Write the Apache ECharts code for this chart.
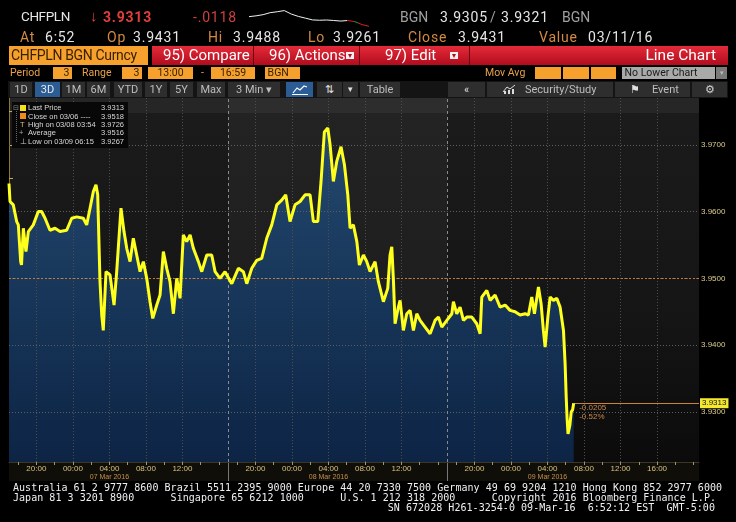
<!DOCTYPE html>
<html><head><meta charset="utf-8">
<script src="https://cdn.jsdelivr.net/npm/echarts@6/dist/echarts.min.js"></script>
<style>
body{margin:0;background:#000;width:736px;height:522px;overflow:hidden;position:relative;font-family:Roboto,'Liberation Sans',sans-serif;}
.a{position:absolute;white-space:pre;line-height:1;}
.h1{font-size:14px;top:10px;color:#e6e6e6;letter-spacing:0.8px}
.h2{font-size:14px;top:30px;color:#e6e6e6;letter-spacing:0.8px}
.o{color:#d48a42}
.box{position:absolute;top:67px;height:12px;background:#f6a12e;color:#3a2000;font-size:10.5px;line-height:12px;white-space:pre}
.lab{position:absolute;top:67px;height:12px;color:#e8a04a;font-size:10.5px;line-height:12px;white-space:pre}
.btn{position:absolute;top:82px;height:15px;background:#2e2e2e;color:#bdbdbd;font-size:11px;line-height:15px;text-align:center;white-space:pre}
.rb{position:absolute;top:46px;height:19px;line-height:19px;color:#fff;font-size:15px;white-space:pre}
.lg{position:absolute;font-family:'Liberation Sans',sans-serif;font-size:7.5px;line-height:8px;color:#d8d8d8;white-space:pre}
.f{position:absolute;left:13px;margin:0;font-family:'DejaVu Sans Mono',monospace;font-size:10px;line-height:10px;color:#f0f0f0;white-space:pre;letter-spacing:0.04px}
</style></head><body>
<div style="position:absolute;left:9px;top:462px;width:690px;height:19px;background:#100e09"></div>
<div id="main" style="position:absolute;left:0;top:0;width:736px;height:522px"></div>
<div id="spark" style="position:absolute;left:248px;top:7px;width:122px;height:22px"></div>

<!-- header row 1 -->
<div class="a h1" style="left:21px;font-size:13.5px;letter-spacing:-0.4px">CHFPLN</div>
<div class="a h1" style="left:90px;top:9px;color:#e0403c;font-size:15px">↓</div>
<div class="a h1" style="left:103px;color:#e0403c;font-weight:bold">3.9313</div>
<div class="a h1" style="left:193px;color:#d0403c">-.0118</div>
<div class="a h1" style="left:400px;color:#a0a0a0;letter-spacing:0">BGN</div>
<div class="a h1" style="left:440px">3.9305</div>
<div class="a h1" style="left:490px;color:#a0a0a0">/</div>
<div class="a h1" style="left:501px">3.9321</div>
<div class="a h1" style="left:562px;color:#a0a0a0;letter-spacing:0">BGN</div>
<!-- header row 2 -->
<div class="a h2 o" style="left:20px">At</div>
<div class="a h2" style="left:45px">6:52</div>
<div class="a h2 o" style="left:107px">Op</div>
<div class="a h2" style="left:133px">3.9431</div>
<div class="a h2 o" style="left:208px">Hi</div>
<div class="a h2" style="left:233px">3.9488</div>
<div class="a h2 o" style="left:308px">Lo</div>
<div class="a h2" style="left:333px">3.9261</div>
<div class="a h2 o" style="left:408px">Close</div>
<div class="a h2" style="left:458px">3.9431</div>
<div class="a h2 o" style="left:539px">Value</div>
<div class="a h2" style="left:588px">03/11/16</div>
<!-- row 3 -->
<div style="position:absolute;left:9px;top:46px;width:139px;height:19px;background:#f6a12e"></div>
<div class="rb" style="left:11px;color:#3a2000;font-size:14px;letter-spacing:-0.35px">CHFPLN BGN Curncy</div>
<div style="position:absolute;left:152px;top:46px;width:576px;height:19px;background:linear-gradient(#e42b3a,#b10c1d)"></div>
<div style="position:absolute;left:253px;top:46px;width:1px;height:19px;background:#6a0812"></div>
<div style="position:absolute;left:359px;top:46px;width:1px;height:19px;background:#6a0812"></div>
<div style="position:absolute;left:469px;top:46px;width:1px;height:19px;background:#6a0812"></div>
<div class="rb" style="left:163px">95) Compare</div>
<div class="rb" style="left:269px">96) Actions</div>
<div style="position:absolute;left:346px;top:52px;width:8px;height:7px;background:#f0f0f0;color:#b10c1d;font-size:8px;line-height:7px;text-align:center">▾</div>
<div class="rb" style="left:385px">97) Edit</div>
<div style="position:absolute;left:450px;top:52px;width:8px;height:7px;background:#f0f0f0;color:#b10c1d;font-size:8px;line-height:7px;text-align:center">▾</div>
<div class="rb" style="right:20px;font-size:15.5px">Line Chart</div>
<!-- row 4 -->
<div class="lab" style="left:10px">Period</div>
<div class="box" style="left:53px;width:19px;text-align:right;padding-right:0px">3 </div>
<div class="lab" style="left:82px">Range</div>
<div class="box" style="left:122px;width:20px;text-align:right">3 </div>
<div class="box" style="left:148px;width:45px;text-align:center">13:00</div>
<div class="lab" style="left:201px">-</div>
<div class="box" style="left:211px;width:44px;text-align:center">16:59</div>
<div class="box" style="left:265px;width:35px"> BGN</div>
<div class="lab" style="left:485px">Mov Avg</div>
<div class="box" style="left:535px;width:26px"></div>
<div class="box" style="left:563px;width:26px"></div>
<div class="box" style="left:591px;width:25px"></div>
<div class="box" style="left:622px;width:93px;background:#a9a9a9;color:#1a1a1a"> No Lower Chart</div>
<div class="box" style="left:716px;width:11px;background:#7a7a7a;color:#bbb;text-align:center;font-size:7px">▾</div>
<!-- row 5 -->
<div style="position:absolute;left:8px;top:81px;width:720px;height:17px;background:#141414"></div>
<div class="btn" style="left:10px;width:22px">1D</div>
<div class="btn" style="left:35px;width:25px;background:#2b5c93;color:#e8e8e8">3D</div>
<div class="btn" style="left:62px;width:23px">1M</div>
<div class="btn" style="left:87px;width:23px">6M</div>
<div class="btn" style="left:114px;width:28px">YTD</div>
<div class="btn" style="left:145px;width:22px">1Y</div>
<div class="btn" style="left:170px;width:23px">5Y</div>
<div class="btn" style="left:197px;width:28px">Max</div>
<div class="btn" style="left:228px;width:52px">3 Min ▾</div>
<div class="btn" style="left:286px;width:27px;background:#2b5c93"><svg width="16" height="11" style="margin-top:2px"><polyline points="1,9 5,4 8,6 12,2 15,3" stroke="#fff" fill="none" stroke-width="1.2"/><line x1="0" y1="10.5" x2="16" y2="10.5" stroke="#fff"/></svg></div>
<div class="btn" style="left:317px;width:25px;color:#e0e0e0">⇅</div>
<div class="btn" style="left:343px;width:15px;color:#e0e0e0;font-size:9px">▾</div>
<div class="btn" style="left:360px;width:40px">Table</div>
<div class="btn" style="left:448px;width:37px;color:#e0e0e0">«</div>
<div class="btn" style="left:487px;width:126px;text-align:left"><svg width="14" height="10" style="margin-left:15px;margin-right:9px;vertical-align:-1px"><polyline points="1,8 5,3 8,5 13,1" stroke="#ddd" fill="none"/><rect x="2" y="7" width="2" height="3" fill="#ddd"/><rect x="6" y="6" width="2" height="4" fill="#ddd"/><rect x="10" y="5" width="2" height="5" fill="#ddd"/></svg>Security/Study</div>
<div class="btn" style="left:615px;width:75px;text-align:left;color:#e0e0e0"><span style="margin-left:15px;margin-right:12px">⚑</span><span style="color:#bdbdbd">Event</span></div>
<div class="btn" style="left:692px;width:35px;color:#d0d0d0">⚙</div>

<!-- legend -->
<div style="position:absolute;left:12px;top:102px;width:116px;height:46px;background:rgba(6,6,6,0.93)"></div>
<div style="position:absolute;left:16px;top:111px;width:0;height:31px;border-left:1px dotted #666"></div>
<div class="lg" style="left:13px;top:104px;color:#888;font-size:7px">⊟</div>
<div style="position:absolute;left:20px;top:105px;width:6px;height:6px;background:#f2e21e"></div>
<div class="lg" style="left:28px;top:104px">Last Price</div>
<div class="lg" style="left:100px;top:104px;width:24px;text-align:right">3.9313</div>
<div style="position:absolute;left:20px;top:113px;width:6px;height:6px;background:#f08a1e"></div>
<div class="lg" style="left:28px;top:113px">Close on 03/06 ----</div>
<div class="lg" style="left:100px;top:113px;width:24px;text-align:right">3.9518</div>
<div class="lg" style="left:20px;top:121px;color:#d8c070">T</div>
<div class="lg" style="left:28px;top:121px">High on 03/08 03:54</div>
<div class="lg" style="left:100px;top:121px;width:24px;text-align:right">3.9726</div>
<div class="lg" style="left:19px;top:129px;color:#aaa">+</div>
<div class="lg" style="left:28px;top:129px">Average</div>
<div class="lg" style="left:100px;top:129px;width:24px;text-align:right">3.9516</div>
<div class="lg" style="left:20px;top:138px;color:#ccc">⊥</div>
<div class="lg" style="left:28px;top:138px">Low on 03/09 06:15</div>
<div class="lg" style="left:100px;top:138px;width:24px;text-align:right">3.9267</div>

<!-- footer -->
<div class="f" style="top:483px">Australia 61 2 9777 8600 Brazil 5511 2395 9000 Europe 44 20 7330 7500 Germany 49 69 9204 1210 Hong Kong 852 2977 6000</div>
<div class="f" style="top:493px">Japan 81 3 3201 8900      Singapore 65 6212 1000      U.S. 1 212 318 2000      Copyright 2016 Bloomberg Finance L.P.</div>
<div class="f" style="top:503px;left:auto;right:21px">SN 672028 H261-3254-0 09-Mar-16  6:52:12 EST  GMT-5:00</div>

<script>
// hours since 06 Mar 2016 17:00 (session start)
const hours = [
0,0.11,0.47,0.84,1.02,1.28,1.37,1.57,1.86,2.12,
2.66,3.21,3.58,3.95,4.49,5.04,5.59,6.32,6.87,7.42,
8.14,8.51,8.88,9.24,9.53,9.72,9.97,10.16,10.33,10.63,
11.07,11.51,11.80,12.27,12.60,12.90,13.26,13.62,13.99,14.36,
14.72,15.09,15.45,15.75,16.19,16.55,16.91,17.28,17.64,18.01,
18.38,18.74,19.10,19.47,19.84,20.20,20.75,21.12,21.67,22.21,
22.58,23.12,23.67,24.41,25.13,25.68,26.05,26.60,27.15,27.69,
28.24,28.79,29.34,29.88,30.32,30.79,31.34,31.89,32.44,32.99,
33.35,33.83,34.19,34.55,34.93,35.18,35.54,35.91,36.38,36.75,
37.12,37.37,37.73,38.11,38.39,38.83,39.20,39.56,40.11,40.47,
41.02,41.50,41.75,41.94,42.12,42.30,42.66,42.85,43.21,43.58,
43.95,44.31,44.68,45.04,45.59,46.14,46.68,47.05,47.42,47.97,
48.52,48.69,49.06,49.42,49.79,50.16,50.71,51.25,51.62,51.80,
52.35,52.71,53.26,53.81,54.36,54.90,55.45,56.00,56.55,56.91,
57.28,57.57,58.01,58.30,58.55,58.74,59.04,59.29,59.65,60.02,
60.38,60.75,60.93,61.05,61.15,61.25,61.45,61.60,61.75,61.87];
const prices = [
3.9642,3.9615,3.9610,3.9585,3.9580,3.9525,3.9520,3.9575,3.9540,3.9570,
3.9580,3.9600,3.9600,3.9590,3.9572,3.9575,3.9570,3.9572,3.9590,3.9592,
3.9590,3.9580,3.9605,3.9630,3.9640,3.9625,3.9495,3.9445,3.9422,3.9510,
3.9505,3.9460,3.9510,3.9605,3.9570,3.9545,3.9525,3.9560,3.9535,3.9510,
3.9525,3.9500,3.9465,3.9440,3.9460,3.9475,3.9540,3.9515,3.9495,3.9447,
3.9500,3.9470,3.9565,3.9555,3.9565,3.9545,3.9525,3.9510,3.9535,3.9535,
3.9510,3.9500,3.9510,3.9492,3.9515,3.9510,3.9492,3.9515,3.9527,3.9530,
3.9560,3.9580,3.9610,3.9617,3.9625,3.9585,3.9610,3.9615,3.9625,3.9625,
3.9585,3.9585,3.9645,3.9719,3.9725,3.9700,3.9645,3.9675,3.9697,3.9670,
3.9625,3.9575,3.9580,3.9555,3.9520,3.9535,3.9525,3.9510,3.9525,3.9495,
3.9465,3.9485,3.9535,3.9547,3.9497,3.9432,3.9457,3.9467,3.9422,3.9447,
3.9452,3.9422,3.9447,3.9437,3.9427,3.9417,3.9437,3.9442,3.9427,3.9437,
3.9447,3.9465,3.9447,3.9457,3.9437,3.9442,3.9442,3.9432,3.9417,3.9472,
3.9482,3.9467,3.9475,3.9457,3.9460,3.9452,3.9450,3.9445,3.9447,3.9445,
3.9472,3.9447,3.9487,3.9462,3.9422,3.9397,3.9442,3.9472,3.9467,3.9470,
3.9457,3.9422,3.9372,3.9322,3.9290,3.9267,3.9280,3.9300,3.9303,3.9313];
const sparkValues = [3.9613,3.9630,3.9654,3.9695,3.9714,3.9738,3.9666,3.9618,3.9582,3.9546,3.9539,3.9544,3.9534,3.9522,3.9534,3.9510,3.9450,3.9414];

const xLabelHours = [3,7,11,15,19,27,31,35,39,43,51,55,59,63,67,71];
const xMinorTickHours = [1,3,5,7,9,11,13,15,17,19,21,23,25,27,29,31,33,35,37,39,41,43,45,47,49,51,53,55,57,59,61,63,65,67,69,71,73,75];
const dateLabels = {11:'07 Mar 2016', 35:'08 Mar 2016', 59:'09 Mar 2016'};
const sessionBreaks = [24,48];
const yLabelValues = [3.93,3.94,3.95,3.96,3.97];
const yTickValues = [3.925,3.93,3.935,3.94,3.945,3.95,3.955,3.96,3.965,3.97,3.975];
const xMin = 0, xMax = 75.6, yMin = 3.9225, yMax = 3.977;
const closePrice = 3.9518;
const lastPrice = 3.9313;
const changeText = '-0.0205\n-0.52%';
const sessionStartHour = 17;

const data = hours.map((h,i)=>[h,prices[i]]);
const lastHour = hours[hours.length-1];

const chart = echarts.init(document.getElementById('main'));
const fmtHour = h => { const hh = (sessionStartHour + h) % 24; return (hh<10?'0':'')+hh+':00'; };

chart.setOption({
  animation:false,
  backgroundColor:'transparent',
  grid:{left:9,right:37,top:98,bottom:60,show:true,borderWidth:0,
    backgroundColor:new echarts.graphic.LinearGradient(0,0,0,1,[
      {offset:0,color:'#262626'},{offset:0.04,color:'#262626'},{offset:0.042,color:'#1b1b1b'},
      {offset:0.6,color:'#151515'},{offset:1,color:'#0b0b0b'}])},
  xAxis:{type:'value',min:xMin,max:xMax,splitLine:{show:false},
    axisLine:{show:true,lineStyle:{color:'#3a3628'}},
    axisTick:{show:true,customValues:xMinorTickHours,length:3,lineStyle:{color:'#a89660'}},
    axisLabel:{customValues:xLabelHours,margin:2,
      formatter:v=>{ const d = dateLabels[v]; return '{t|'+fmtHour(v)+'}' + (d ? '\n{d|'+d+'}' : ''); },
      rich:{t:{color:'#d8c27e',fontSize:8,lineHeight:9,fontFamily:'Liberation Sans'},
            d:{color:'#c8904a',fontSize:7,lineHeight:9,fontFamily:'Liberation Sans'}}}},
  yAxis:{type:'value',position:'right',min:yMin,max:yMax,splitLine:{show:false},
    axisLine:{show:true,lineStyle:{color:'#8c7a2c'}},
    axisTick:{show:true,customValues:yTickValues,length:4,lineStyle:{color:'#c0aa50'}},
    axisLabel:{customValues:yLabelValues,formatter:v=>v.toFixed(4),color:'#dccb8c',fontSize:8,margin:2,fontFamily:'Liberation Sans'}},
  series:[
    {type:'line',data:data,showSymbol:false,silent:true,z:1,lineStyle:{width:0},
     areaStyle:{origin:'start',opacity:1,color:new echarts.graphic.LinearGradient(0,0,0,1,[
       {offset:0,color:'#24496f'},{offset:0.5,color:'#173659'},{offset:1,color:'#0d2445'}])}},
    {type:'line',data:data,showSymbol:false,silent:true,z:2,lineStyle:{opacity:0},
     markArea:{silent:true,z:1,itemStyle:{color:'rgba(255,255,255,0.035)'},data:[[{xAxis:sessionBreaks[0]},{xAxis:sessionBreaks[1]}]]},
     markLine:{silent:true,z:2,symbol:['none','none'],animation:false,label:{show:false},
       data:[].concat(
         yLabelValues.map(v=>({yAxis:v,lineStyle:{color:'#5e5e5e',type:[1,2],width:1}})),
         xLabelHours.map(h=>({xAxis:h,lineStyle:{color:'#4e4e4e',type:[1,2],width:1}})),
         sessionBreaks.map(h=>({xAxis:h,lineStyle:{color:'#8a8a8a',type:[3,3],width:1}})))}},
    {type:'line',data:data,showSymbol:false,silent:true,z:3,lineStyle:{color:'#ffff1e',width:3},
     markLine:{silent:true,z:2,symbol:['none','none'],animation:false,
       data:[
         {yAxis:closePrice,lineStyle:{color:'#c87838',type:[2,2],width:1},label:{show:false}},
         [{coord:[lastHour,lastPrice],lineStyle:{color:'#c8843a',type:'solid',width:1},
           label:{show:true,position:'end',distance:1,formatter:lastPrice.toFixed(4),backgroundColor:'#f5e830',color:'#111',padding:[1,2],fontSize:8,fontFamily:'Liberation Sans'}},
          {coord:[xMax,lastPrice]}]
       ]},
     markPoint:{silent:true,symbol:'circle',symbolSize:1,itemStyle:{color:'transparent'},
       data:[{coord:[lastHour,lastPrice],
         label:{show:true,position:'right',distance:5,offset:[0,9],formatter:changeText,color:'#d08848',fontSize:8,lineHeight:9,fontFamily:'Liberation Sans',align:'left'}}]}}
  ]
});

// session break marks through the time axis band
const g = sessionBreaks.map(h=>{
  const x = Math.round(chart.convertToPixel({xAxisIndex:0},h))+0.5;
  return {type:'line',shape:{x1:x,y1:462,x2:x,y2:481},style:{stroke:'#777',lineWidth:1},silent:true};
});
chart.setOption({graphic:g});

const spark = echarts.init(document.getElementById('spark'));
spark.setOption({
  animation:false,
  grid:{left:1,right:1,top:3,bottom:2},
  xAxis:{type:'category',show:false,boundaryGap:false,data:sparkValues.map((_,i)=>i)},
  yAxis:{type:'value',show:false,scale:true},
  series:[{type:'line',data:sparkValues,showSymbol:false,silent:true,
    lineStyle:{width:1,color:new echarts.graphic.LinearGradient(0,0,1,0,[
      {offset:0,color:'#f0f0f0'},{offset:0.8,color:'#f0f0f0'},{offset:0.801,color:'#d82020'},
      {offset:0.86,color:'#d82020'},{offset:0.861,color:'#20a040'},{offset:0.89,color:'#20a040'},
      {offset:0.891,color:'#d82020'},{offset:1,color:'#d82020'}])}}]
});
</script>
</body></html>
